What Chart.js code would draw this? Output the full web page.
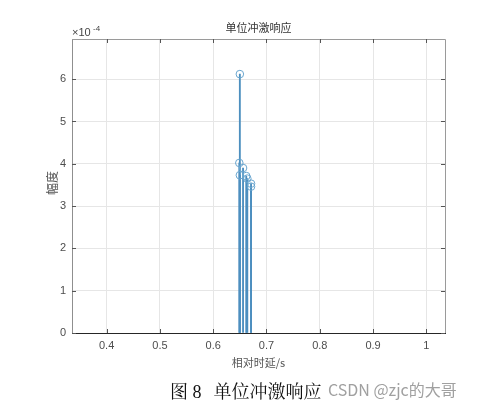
<!DOCTYPE html>
<html>
<head>
<meta charset="utf-8">
<script src="https://cdn.jsdelivr.net/npm/chart.js@4"></script>
<style>
  body { margin: 0; background: #fff; }
  #wrap { position: relative; width: 484px; height: 405px; }
  #caption { position: absolute; left: 170px; top: 377px; white-space: nowrap;
    font-family: "Liberation Serif", "Noto Serif CJK SC", "Noto Sans CJK SC", serif; font-size: 18px; color: #111; }
  #caption .gap { display: inline-block; width: 12px; }
  #mark { position: absolute; left: 328px; top: 377px; white-space: nowrap;
    font-family: "Noto Sans CJK SC", "Liberation Sans", sans-serif; font-size: 16px; color: #a0a0a0; }
</style>
</head>
<body>
<div id="wrap">
  <canvas id="stemChart" width="484" height="405"></canvas>
  <div id="caption">图&nbsp;8<span class="gap"></span>单位冲激响应</div>
  <div id="mark">CSDN @zjc的大哥</div>
</div>
<script>
// stem data (delay in s, amplitude in units of 1e-4)
const delays = [0.650, 0.649, 0.656, 0.650, 0.662, 0.664, 0.671, 0.671];
const amps = [6.12, 4.02, 3.90, 3.73, 3.71, 3.65, 3.53, 3.46];
const xTicks = [0.4, 0.5, 0.6, 0.7, 0.8, 0.9, 1];
const yTicks = [0, 1, 2, 3, 4, 5, 6];

const titleText = '单位冲激响应';
const xLabel = '相对时延/s';
const yLabel = '幅度';

const points = delays.map((d, i) => ({ x: d, y: amps[i] }));

const tickFont = { family: 'Liberation Sans, Arial, sans-serif', size: 11 };
const cjk = '"Noto Sans CJK SC", sans-serif';

// box, title, axis labels and the x10^-4 factor
const decorations = {
  id: 'decorations',
  afterDraw(chart) {
    const { ctx, chartArea: a } = chart;
    ctx.save();
    ctx.strokeStyle = '#9a9a9a';
    ctx.lineWidth = 1;
    ctx.beginPath();
    ctx.moveTo(a.left, a.top + 0.5);
    ctx.lineTo(a.right + 0.5, a.top + 0.5);
    ctx.lineTo(a.right + 0.5, a.bottom);
    ctx.stroke();

    // inward ticks
    const xs = chart.scales.x, ys = chart.scales.y;
    ctx.strokeStyle = '#555';
    xTicks.forEach(v => {
      const px = Math.round(xs.getPixelForValue(v)) + 0.5;
      ctx.beginPath();
      ctx.moveTo(px, a.bottom); ctx.lineTo(px, a.bottom - 4);
      ctx.moveTo(px, a.top); ctx.lineTo(px, a.top + 4);
      ctx.stroke();
    });
    yTicks.forEach(v => {
      const py = Math.round(ys.getPixelForValue(v)) + 0.5;
      ctx.beginPath();
      ctx.moveTo(a.left, py); ctx.lineTo(a.left + 4, py);
      ctx.moveTo(a.right, py); ctx.lineTo(a.right - 4, py);
      ctx.stroke();
    });

    ctx.fillStyle = '#333';
    ctx.textAlign = 'center';
    ctx.textBaseline = 'middle';
    ctx.font = '11px ' + cjk;
    ctx.fillText(titleText, (a.left + a.right) / 2, 28);
    ctx.fillStyle = '#555';
    ctx.fillText(xLabel, (a.left + a.right) / 2, 363);
    ctx.font = '12px ' + cjk;
    ctx.translate(52, 183);
    ctx.rotate(-Math.PI / 2);
    ctx.fillText(yLabel, 0, 0);
    ctx.restore();

    ctx.save();
    ctx.fillStyle = '#444';
    ctx.font = '11px Liberation Sans, Arial, sans-serif';
    ctx.textBaseline = 'alphabetic';
    ctx.fillText('\u00d710', 72, 36);
    ctx.font = '8px Liberation Sans, Arial, sans-serif';
    ctx.fillText('-4', 93, 31);
    ctx.restore();
  }
};

new Chart(document.getElementById('stemChart'), {
  data: {
    datasets: [
      {
        type: 'scatter',
        data: points,
        pointStyle: 'circle',
        pointRadius: 3.8,
        borderWidth: 1,
        borderColor: '#6aa6cf',
        backgroundColor: 'rgba(0,0,0,0)',
        order: 0
      },
      {
        type: 'bar',
        data: points,
        barThickness: 1.2,
        backgroundColor: '#4d8fbf',
        borderWidth: 0,
        order: 1
      }
    ]
  },
  options: {
    responsive: false,
    animation: false,
    layout: { padding: { top: 39, right: 39, left: 0, bottom: 0 } },
    plugins: { legend: { display: false }, tooltip: { enabled: false } },
    scales: {
      x: {
        type: 'linear',
        min: 0.335,
        max: 1.035,
        offset: false,
        afterFit: s => { s.height = 72; },
        afterBuildTicks: s => { s.ticks = xTicks.map(v => ({ value: v })); },
        ticks: { font: tickFont, color: '#4d4d4d', padding: 6, maxRotation: 0,
          callback: v => String(v) },
        grid: { color: '#e6e6e6', tickLength: 0, offset: false },
        border: { color: '#262626', width: 1 }
      },
      y: {
        type: 'linear',
        min: 0,
        max: 6.95,
        afterFit: s => { s.width = 72; },
        afterBuildTicks: s => { s.ticks = yTicks.map(v => ({ value: v })); },
        ticks: { font: tickFont, color: '#4d4d4d', padding: 6 },
        grid: { color: '#e6e6e6', tickLength: 0 },
        border: { color: '#8f8f8f', width: 1 }
      }
    }
  },
  plugins: [decorations]
});
</script>
</body>
</html>
